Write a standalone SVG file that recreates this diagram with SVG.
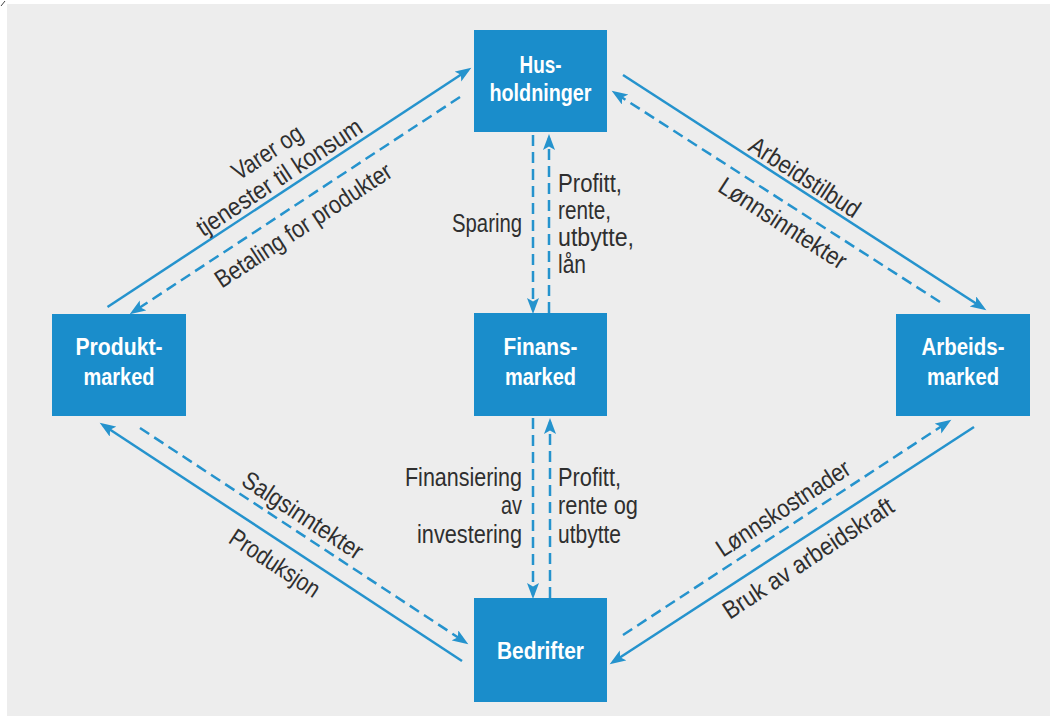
<svg xmlns="http://www.w3.org/2000/svg" width="1053" height="719" viewBox="0 0 1053 719">
<style>
.node rect{fill:#1a8dcb}
.nl{font-family:"Liberation Sans",Arial,sans-serif;font-weight:bold;font-size:24px;fill:#ffffff;text-anchor:middle}
.lb{font-family:"Liberation Sans",Arial,sans-serif;font-size:25px;fill:#2f2f2f}
.c{fill:none;stroke:#2593cd;stroke-width:2.5}
.d{stroke-dasharray:11 6}
.m{marker-end:url(#ah)}
</style>
<defs>
<marker id="ah" markerWidth="17" markerHeight="13" refX="12" refY="6" orient="auto" markerUnits="userSpaceOnUse">
<path d="M0,0 L16,6 L0,12 L3.5,6 z" fill="#2593cd"/>
</marker>
</defs>
<rect x="0" y="0" width="1053" height="719" fill="#ffffff"/>
<rect x="7" y="4" width="1043" height="712" fill="#ededed"/>
<line x1="1" y1="6" x2="5" y2="1" stroke="#444" stroke-width="1"/>

<g id="connectors">
<line class="c m" x1="107.5" y1="307" x2="468" y2="70"/>
<line class="c d m" x1="460" y1="97" x2="133" y2="312"/>
<line class="c m" x1="623" y1="75" x2="983" y2="308"/>
<line class="c d m" x1="940" y1="302" x2="615" y2="93"/>
<line class="c m" x1="462" y1="661" x2="103" y2="425"/>
<line class="c d m" x1="140" y1="428" x2="465" y2="642"/>
<line class="c d m" x1="623" y1="635" x2="948" y2="422"/>
<line class="c m" x1="974" y1="427" x2="613" y2="662"/>
<line class="c d m" x1="533" y1="135" x2="533" y2="310"/>
<line class="c d m" x1="549" y1="313" x2="549" y2="138"/>
<line class="c d m" x1="533" y1="418" x2="533" y2="595"/>
<line class="c d m" x1="550" y1="598" x2="550" y2="422"/>
</g>

<g id="labels">
<text class="lb" text-anchor="middle" dy=".35em" textLength="79" lengthAdjust="spacingAndGlyphs" transform="translate(267,152) rotate(-33.3)">Varer og</text>
<text class="lb" text-anchor="middle" dy=".35em" textLength="193" lengthAdjust="spacingAndGlyphs" transform="translate(279,177) rotate(-33.3)">tjenester til konsum</text>
<text class="lb" text-anchor="middle" dy=".35em" textLength="206" lengthAdjust="spacingAndGlyphs" transform="translate(303,225) rotate(-33.3)">Betaling for produkter</text>
<text class="lb" text-anchor="middle" dy=".35em" textLength="127" lengthAdjust="spacingAndGlyphs" transform="translate(805,177) rotate(32.9)">Arbeidstilbud</text>
<text class="lb" text-anchor="middle" dy=".35em" textLength="147" lengthAdjust="spacingAndGlyphs" transform="translate(783,223) rotate(32.9)">Lønnsinntekter</text>
<text class="lb" text-anchor="middle" dy=".35em" textLength="139" lengthAdjust="spacingAndGlyphs" transform="translate(303,515) rotate(33.3)">Salgsinntekter</text>
<text class="lb" text-anchor="middle" dy=".35em" textLength="103" lengthAdjust="spacingAndGlyphs" transform="translate(275,563) rotate(33.3)">Produksjon</text>
<text class="lb" text-anchor="middle" dy=".35em" textLength="155" lengthAdjust="spacingAndGlyphs" transform="translate(783,508) rotate(-33.3)">Lønnskostnader</text>
<text class="lb" text-anchor="middle" dy=".35em" textLength="199" lengthAdjust="spacingAndGlyphs" transform="translate(808,558) rotate(-33.3)">Bruk av arbeidskraft</text>
<text class="lb" x="522" y="232" text-anchor="end" textLength="70" lengthAdjust="spacingAndGlyphs">Sparing</text>
<text class="lb" x="558" y="192" textLength="64" lengthAdjust="spacingAndGlyphs">Profitt,</text>
<text class="lb" x="558" y="219" textLength="53" lengthAdjust="spacingAndGlyphs">rente,</text>
<text class="lb" x="558" y="246" textLength="76" lengthAdjust="spacingAndGlyphs">utbytte,</text>
<text class="lb" x="558" y="273" textLength="28" lengthAdjust="spacingAndGlyphs">lån</text>
<text class="lb" x="522" y="486" text-anchor="end" textLength="117" lengthAdjust="spacingAndGlyphs">Finansiering</text>
<text class="lb" x="522" y="514" text-anchor="end" textLength="21" lengthAdjust="spacingAndGlyphs">av</text>
<text class="lb" x="522" y="543" text-anchor="end" textLength="105" lengthAdjust="spacingAndGlyphs">investering</text>
<text class="lb" x="558" y="486" textLength="63" lengthAdjust="spacingAndGlyphs">Profitt,</text>
<text class="lb" x="558" y="514" textLength="80" lengthAdjust="spacingAndGlyphs">rente og</text>
<text class="lb" x="558" y="543" textLength="63" lengthAdjust="spacingAndGlyphs">utbytte</text>
</g>

<g id="husholdninger" class="node">
<rect x="474" y="30" width="133" height="102"/>
<text class="nl" x="540.5" y="73" textLength="42" lengthAdjust="spacingAndGlyphs">Hus-</text>
<text class="nl" x="540.5" y="101" textLength="102" lengthAdjust="spacingAndGlyphs">holdninger</text>
</g>
<g id="produktmarked" class="node">
<rect x="52" y="314" width="134" height="102"/>
<text class="nl" x="119" y="355" textLength="87" lengthAdjust="spacingAndGlyphs">Produkt-</text>
<text class="nl" x="119" y="385" textLength="71" lengthAdjust="spacingAndGlyphs">marked</text>
</g>
<g id="finansmarked" class="node">
<rect x="474" y="313" width="133" height="103"/>
<text class="nl" x="540.5" y="355" textLength="74" lengthAdjust="spacingAndGlyphs">Finans-</text>
<text class="nl" x="540.5" y="385" textLength="71" lengthAdjust="spacingAndGlyphs">marked</text>
</g>
<g id="arbeidsmarked" class="node">
<rect x="896" y="314" width="134" height="102"/>
<text class="nl" x="963" y="355" textLength="83" lengthAdjust="spacingAndGlyphs">Arbeids-</text>
<text class="nl" x="963" y="385" textLength="72" lengthAdjust="spacingAndGlyphs">marked</text>
</g>
<g id="bedrifter" class="node">
<rect x="474" y="598" width="133" height="104"/>
<text class="nl" x="540.5" y="659" textLength="87" lengthAdjust="spacingAndGlyphs">Bedrifter</text>
</g>
</svg>
